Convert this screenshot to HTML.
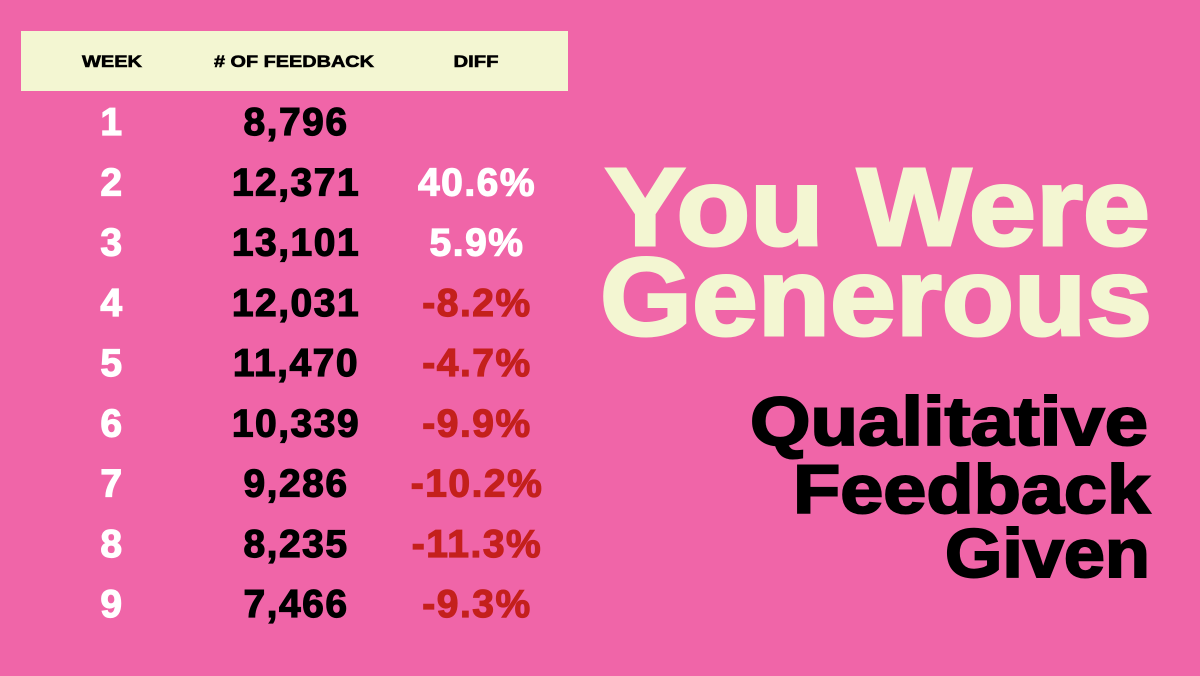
<!DOCTYPE html>
<html><head><meta charset="utf-8"><style>
html,body{margin:0;padding:0;background:#F065A8;}
svg{display:block;font-family:"Liberation Sans",sans-serif;font-weight:bold;}
</style></head><body>
<svg id="s" width="1200" height="676" viewBox="0 0 1200 676">
<rect width="1200" height="676" fill="#F065A8"/>
<rect x="21" y="31" width="547" height="60" fill="#F3F6D2"/>
<text x="112" y="67" font-size="17" text-anchor="middle" textLength="60" lengthAdjust="spacingAndGlyphs" fill="#000" stroke="#000" stroke-width="0.6">WEEK</text>
<text x="294" y="67" font-size="17" text-anchor="middle" textLength="160" lengthAdjust="spacingAndGlyphs" fill="#000" stroke="#000" stroke-width="0.6"># OF FEEDBACK</text>
<text x="476" y="67" font-size="17" text-anchor="middle" textLength="45" lengthAdjust="spacingAndGlyphs" fill="#000" stroke="#000" stroke-width="0.6">DIFF</text>
<g id="rows"></g>
<text x="1150" y="245" font-size="110" text-anchor="end" textLength="545" lengthAdjust="spacingAndGlyphs" fill="#F3F6D2" stroke="#F3F6D2" stroke-width="3">You Were</text>
<text x="1152" y="335" font-size="110" text-anchor="end" textLength="552" lengthAdjust="spacingAndGlyphs" fill="#F3F6D2" stroke="#F3F6D2" stroke-width="3">Generous</text>
<text x="1148" y="445" font-size="69" text-anchor="end" textLength="398" lengthAdjust="spacingAndGlyphs" fill="#000" stroke="#000" stroke-width="2">Qualitative</text>
<text x="1150" y="513" font-size="69" text-anchor="end" textLength="357" lengthAdjust="spacingAndGlyphs" fill="#000" stroke="#000" stroke-width="2">Feedback</text>
<text x="1150" y="577" font-size="69" text-anchor="end" textLength="205" lengthAdjust="spacingAndGlyphs" fill="#000" stroke="#000" stroke-width="2">Given</text>
</svg>
<script>
const weeks=[1,2,3,4,5,6,7,8,9];
const feedback=[8796,12371,13101,12031,11470,10339,9286,8235,7466];
const diffs=[null,40.6,5.9,-8.2,-4.7,-9.9,-10.2,-11.3,-9.3];
const NS="http://www.w3.org/2000/svg";
const g=document.getElementById('rows');
function rowY(i){return 135+60.25*i;}
function txt(x,y,s,fill,name){
  const t=document.createElementNS(NS,'text');
  t.setAttribute('x',x);t.setAttribute('y',y);
  t.setAttribute('font-size','39');t.setAttribute('text-anchor','middle');
  t.setAttribute('letter-spacing','1.5');
  t.setAttribute('fill',fill);t.setAttribute('stroke',fill);t.setAttribute('stroke-width','1.2');
  
  
  t.textContent=s;g.appendChild(t);
}
weeks.forEach((w,i)=>{
  const y=rowY(i);
  txt(112,y,String(w),'#FFFFFF','week-cell');
  txt(296,y,feedback[i].toLocaleString('en-US'),'#000000','feedback-cell');
  if(diffs[i]!==null){
    txt(477,y,diffs[i].toFixed(1)+'%',diffs[i]>=0?'#FFFFFF':'#C4201C','diff-cell');
  }
});
</script>
</body></html>
